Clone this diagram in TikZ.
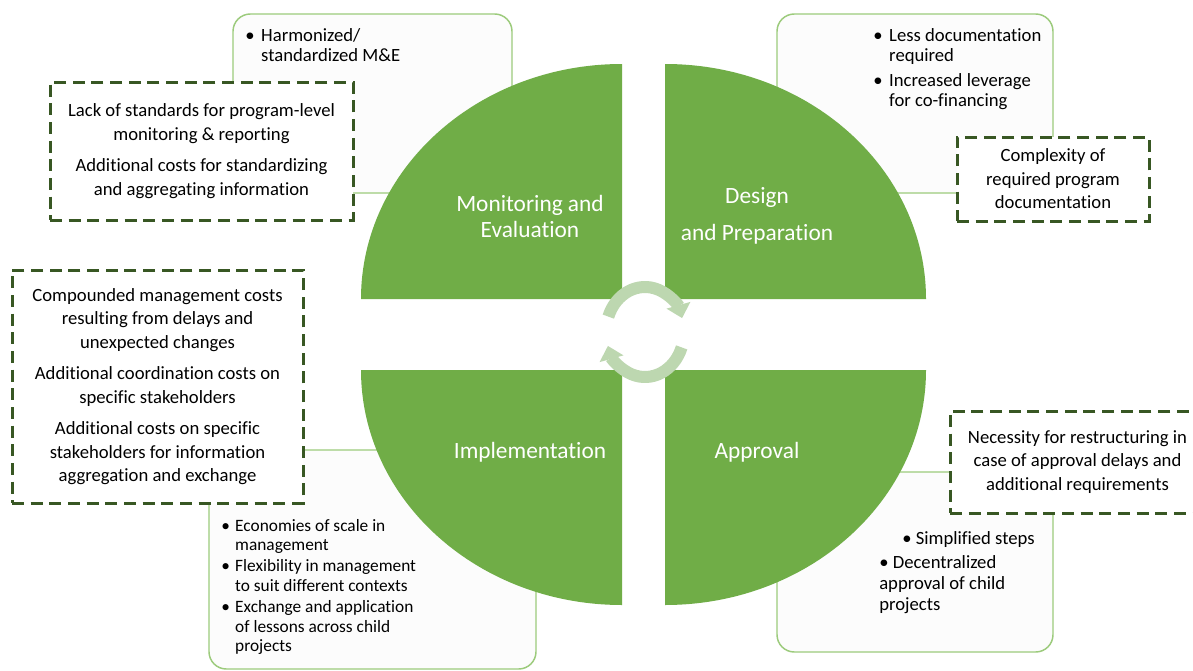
\documentclass[tikz,border=0pt]{standalone}
\usepackage{fontspec}
\setmainfont{Carlito}[Ligatures=NoCommon]
\usepackage{tikz}
\usetikzlibrary{arrows.meta}
\definecolor{leafgreen}{HTML}{70AD47}
\definecolor{darkleaf}{HTML}{385723}
\definecolor{paleleaf}{HTML}{9CCB7C}
\definecolor{mintleaf}{HTML}{BDD7B0}
\definecolor{offwhite}{HTML}{FCFCFC}
\tikzstyle{posbox} = [draw=paleleaf, fill=offwhite, line width=1.1pt, rounded corners=13pt]
\tikzstyle{negbox} = [rectangle, draw=darkleaf, fill=white, line width=2.25pt, dash pattern=on 9pt off 5pt, align=center, inner sep=0pt, font=\fontsize{14}{17.6}\selectfont]
\tikzstyle{quarter} = [fill=leafgreen]
\tikzstyle{qlabel} = [text=white, align=center, inner sep=0pt, font=\fontsize{17.5}{19.5}\selectfont]
\tikzstyle{gain} = [inner sep=0pt, anchor=base west, font=\fontsize{14}{15}\selectfont]
\tikzstyle{cyc} = [line width=9pt, draw=mintleaf, -{Triangle[width=18pt,length=10pt]}]

\begin{document}
\begin{tikzpicture}[x=0.75pt, y=-0.75pt]

  \fill[white] (0,0) rectangle (1193,671);
  \clip (0,0) rectangle (1193,671);

  % rounded boxes (benefits)
  \draw[posbox] (233,14) rectangle (512,193);
  \draw[posbox] (777,14) rectangle (1053,193);
  \draw[posbox] (209,450) rectangle (536,669);
  \draw[posbox] (777,472) rectangle (1053,652);

  % dashed boxes (costs)
  \node (mneg) [negbox, minimum width=227.25pt, minimum height=103.5pt] at (201.5,151)
  {Lack of standards for program-level\\monitoring \& reporting\\[6pt]
   Additional costs for standardizing\\and aggregating information};
  \node (dneg) [negbox, minimum width=144pt, minimum height=63pt] at (1053,179)
  {Complexity of\\required program\\documentation};
  \node (ineg) [negbox, minimum width=218.25pt, minimum height=174.75pt] at (157.5,386.5)
  {Compounded management costs\\resulting from delays and\\unexpected changes\\[6pt]
   Additional coordination costs on\\specific stakeholders\\[6pt]
   Additional costs on specific\\stakeholders for information\\aggregation and exchange};
  \node (aneg) [negbox, minimum width=191.25pt, minimum height=76.5pt] at (1077.5,462)
  {Necessity for restructuring in\\case of approval delays and\\additional requirements};

  % the four quarters
  \fill[quarter] (361,299) arc[start angle=180, end angle=270, x radius=261, y radius=235] -- (622,299) -- cycle;
  \fill[quarter] (665,64) arc[start angle=270, end angle=360, x radius=261, y radius=235] -- (665,299) -- cycle;
  \fill[quarter] (622,605) arc[start angle=90, end angle=180, x radius=261, y radius=235] -- (622,370) -- cycle;
  \fill[quarter] (926,370) arc[start angle=0, end angle=90, x radius=261, y radius=235] -- (665,370) -- cycle;

  \coordinate (hub) at (645,332);
  \draw[cyc] (hub) ++(200:39 and 45) arc[start angle=200, end angle=342, x radius=39, y radius=45];
  \draw[cyc] (hub) ++(20:39 and 45) arc[start angle=20, end angle=162, x radius=39, y radius=45];

  \node (mlab) [qlabel] at (530,216) {Monitoring and\\Evaluation};
  \node (dlab) [qlabel] at (757,216) {Design\\[8pt]and Preparation};
  \node (ilab) [qlabel] at (530,452) {Implementation};
  \node (alab) [qlabel] at (757,452) {Approval};

  % benefits text
  \node (mgain) [gain] at (245,41)
  {\begin{tabular}[t]{@{}l@{\hspace{5pt}}l@{}}
   \textbullet & Harmonized/\\ & standardized M\&E
   \end{tabular}};
  \node (dgain) [gain] at (873,41)
  {\begin{tabular}[t]{@{}l@{\hspace{5pt}}l@{}}
   \textbullet & Less documentation\\ & required\\[4pt]
   \textbullet & Increased leverage\\ & for co-financing
   \end{tabular}};
  \node (igain) [gain, font=\fontsize{13}{14.6}\selectfont] at (221,531)
  {\begin{tabular}[t]{@{}l@{\hspace{4pt}}l@{}}
   \textbullet & Economies of scale in\\ & management\\[1.5pt]
   \textbullet & Flexibility in management\\ & to suit different contexts\\[1.5pt]
   \textbullet & Exchange and application\\ & of lessons across child\\ & projects
   \end{tabular}};
  \node (again1) [gain] at (902,544) {\textbullet\ Simplified steps};
  \node (again2) [gain, font=\fontsize{14}{15.75}\selectfont] at (879,568)
  {\begin{tabular}[t]{@{}l@{}}
   \textbullet\ Decentralized\\approval of child\\projects
   \end{tabular}};

\end{tikzpicture}
\end{document}
